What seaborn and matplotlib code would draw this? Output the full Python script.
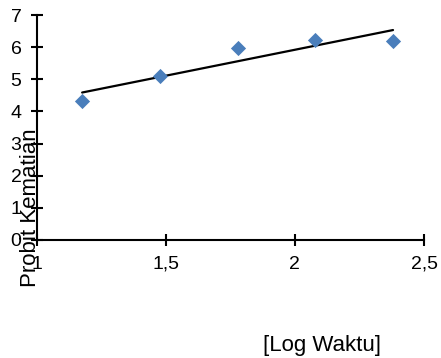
import matplotlib
matplotlib.use("Agg")
import matplotlib.pyplot as plt
import seaborn as sns
import pandas as pd
from matplotlib.ticker import FuncFormatter, MultipleLocator

# Data
log_waktu = [1.176, 1.477, 1.778, 2.079, 2.380]
probit = [4.31, 5.11, 5.97, 6.23, 6.18]
x_label = "[Log Waktu]"
y_label = "Probit Kematian"

df = pd.DataFrame({"log_waktu": log_waktu, "probit": probit})

sns.set_theme(style="white")
plt.rcParams["font.family"] = ["Liberation Sans", "DejaVu Sans"]

fig = plt.figure(figsize=(4.41, 3.58), dpi=100)
ax = fig.add_axes([36.7 / 441, 1 - 240 / 358, (424 - 36.7) / 441, (240 - 15) / 358])

sns.regplot(data=df, x="log_waktu", y="probit", ci=None, truncate=True,
            marker="D", color="#4A7EBB",
            scatter_kws={"s": 60, "linewidths": 0, "zorder": 3,
                         "color": "#4A7EBB", "alpha": 1},
            line_kws={"color": "black", "linewidth": 1.6, "zorder": 2},
            ax=ax)

ax.set_xlim(1, 2.5)
ax.set_ylim(0, 7)
ax.xaxis.set_major_locator(MultipleLocator(0.5))
ax.yaxis.set_major_locator(MultipleLocator(1))
fmt = FuncFormatter(lambda v, p: ("%g" % v).replace(".", ","))
ax.xaxis.set_major_formatter(fmt)
ax.yaxis.set_major_formatter(fmt)

for s in ["top", "right"]:
    ax.spines[s].set_visible(False)
for s in ["left", "bottom"]:
    ax.spines[s].set_color("black")
    ax.spines[s].set_linewidth(1.5)

ax.tick_params(axis="both", direction="inout", length=8, width=1.5,
               color="black", labelsize=14, labelcolor="black", pad=7,
               bottom=True, left=True)
ax.tick_params(axis="x", pad=7.5)
ax.set_xlabel("")
ax.set_ylabel("")

fig.text(30 / 441, 1 - 208 / 358, y_label, rotation=90, ha="center", va="center",
         fontsize=16, color="black")
fig.text(322 / 441, 1 - 345 / 358, x_label, ha="center", va="center",
         fontsize=16, color="black")

fig.savefig("out.png", dpi=100, facecolor="white")
